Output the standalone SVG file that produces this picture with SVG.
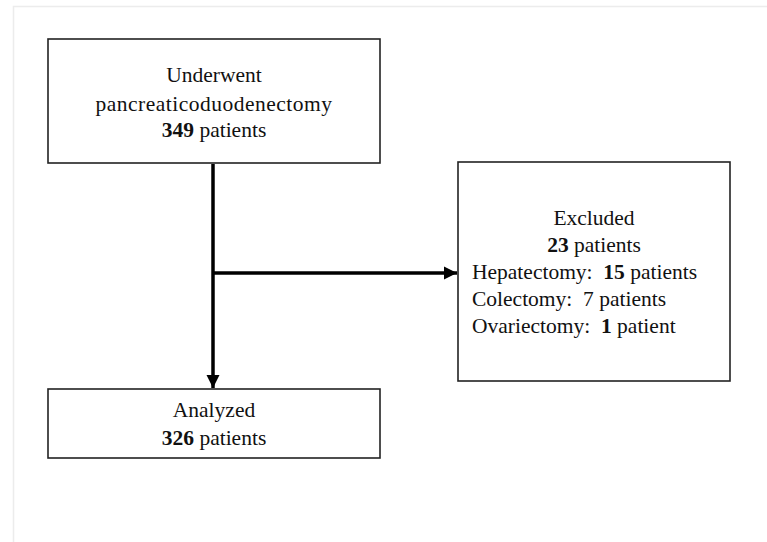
<svg xmlns="http://www.w3.org/2000/svg" width="767" height="542" viewBox="0 0 767 542">
<style>
.box{fill:#fff;stroke:#222;stroke-width:1.6}
.t{font-family:"Liberation Serif","Times New Roman",serif;font-size:21.5px;fill:#111;white-space:pre}
.c{text-anchor:middle}
.b{font-weight:bold}
.ln{stroke:#000;stroke-width:3.5;fill:none}
</style>
<defs>
<marker id="ah" viewBox="0 0 10 10" refX="10" refY="5" markerWidth="3.8" markerHeight="3.8" orient="auto" markerUnits="strokeWidth">
<path d="M0,0 L10,5 L0,10 Z" fill="#000"/>
</marker>
</defs>
<rect x="0" y="0" width="767" height="542" fill="#fff"/>
<path d="M13.5,542 V6.5 H767" fill="none" stroke="#ececec" stroke-width="1.5"/>
<g id="connectors">
<line class="ln" x1="213" y1="164" x2="213" y2="388" marker-end="url(#ah)"/>
<line class="ln" x1="213" y1="273" x2="457" y2="273" marker-end="url(#ah)"/>
</g>
<g id="n1">
<rect class="box" x="48" y="39" width="332" height="124"/>
<text class="t c" x="214" y="82">Underwent</text>
<text class="t c" x="214" y="111" letter-spacing="0.5">pancreaticoduodenectomy</text>
<text class="t c" x="214" y="137"><tspan class="b">349</tspan> patients</text>
</g>
<g id="n2">
<rect class="box" x="458" y="162" width="272" height="219"/>
<text class="t c" x="594" y="225">Excluded</text>
<text class="t c" x="594" y="252"><tspan class="b">23</tspan> patients</text>
<text class="t" x="472" y="279">Hepatectomy:  <tspan class="b">15</tspan> patients</text>
<text class="t" x="472" y="306">Colectomy:  7 patients</text>
<text class="t" x="472" y="333">Ovariectomy:  <tspan class="b">1</tspan> patient</text>
</g>
<g id="n3">
<rect class="box" x="48" y="389" width="332" height="69"/>
<text class="t c" x="214" y="417">Analyzed</text>
<text class="t c" x="214" y="445"><tspan class="b">326</tspan> patients</text>
</g>
</svg>
